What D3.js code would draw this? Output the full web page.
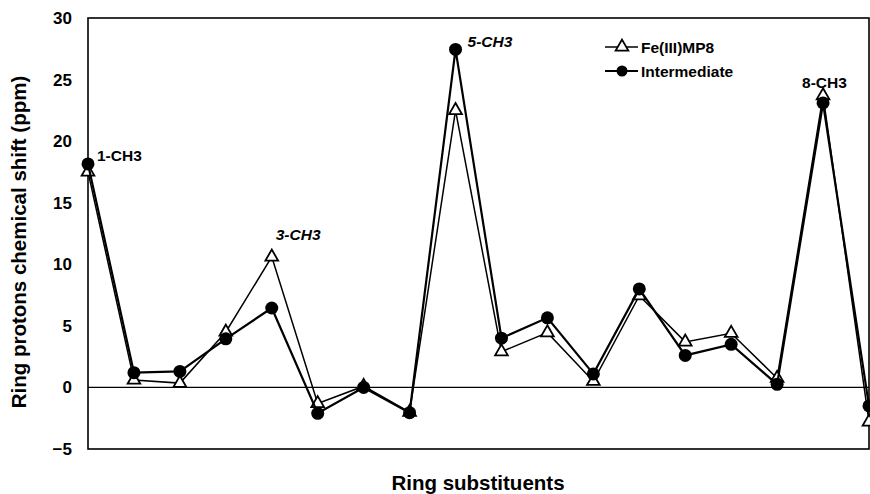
<!DOCTYPE html>
<html>
<head>
<meta charset="utf-8">
<script src="https://cdn.jsdelivr.net/npm/d3@7"></script>
<style>
  html, body { margin: 0; padding: 0; background: #fff; }
  svg { display: block; font-family: "Liberation Sans", Arial, sans-serif; }
</style>
</head>
<body>
<script>
// ring positions along the x axis (no tick labels shown)
const positions = [1, 2, 3, 4, 5, 6, 7, 8, 9, 10, 11, 12, 13, 14, 15, 16, 17, 18];
// chemical shifts (ppm)
const feMP8 = [17.5, 0.6, 0.35, 4.5, 10.6, -1.3, 0.1, -2.0, 22.5, 2.9, 4.45, 0.5, 7.45, 3.7, 4.4, 0.75, 23.7, -2.8];
const intermediate = [18.15, 1.2, 1.3, 3.95, 6.45, -2.1, 0.0, -2.05, 27.45, 4.0, 5.65, 1.1, 8.0, 2.6, 3.5, 0.25, 23.1, -1.5];
const yTicks = [-5, 0, 5, 10, 15, 20, 25, 30];
const peakLabels = ['1-CH3', '3-CH3', '5-CH3', '8-CH3'];
const peakPositions = [1, 5, 9, 17];

const width = 870;
const height = 494;
const margin = { top: 18, right: 1, bottom: 45, left: 88 };

const svg = d3.select('body').append('svg')
  .attr('width', width)
  .attr('height', height);

const x = d3.scaleLinear()
  .domain(d3.extent(positions))
  .range([margin.left, width - margin.right]);

const y = d3.scaleLinear()
  .domain([-5, 30])
  .range([height - margin.bottom, margin.top]);

// y axis labels only, no tick marks
const yAxis = svg.append('g')
  .attr('transform', `translate(${margin.left},0)`)
  .call(d3.axisLeft(y).tickValues(yTicks).tickSize(0).tickPadding(16).tickFormat(d3.format('d')));
yAxis.select('.domain').remove();
yAxis.selectAll('text')
  .attr('font-family', '"Liberation Sans", Arial, sans-serif')
  .attr('font-size', 17)
  .attr('font-weight', 'bold')
  .attr('fill', '#000');

// zero line
svg.append('line')
  .attr('x1', x.range()[0]).attr('x2', x.range()[1])
  .attr('y1', y(0)).attr('y2', y(0))
  .attr('stroke', '#000').attr('stroke-width', 1.3);

// frame
svg.append('rect')
  .attr('x', x.range()[0])
  .attr('y', y(30))
  .attr('width', x.range()[1] - x.range()[0])
  .attr('height', y(-5) - y(30))
  .attr('fill', 'none')
  .attr('stroke', '#000')
  .attr('stroke-width', 1.6);

const line = d3.line()
  .x((d, i) => x(positions[i]))
  .y(d => y(d));

const tri = d3.symbol(d3.symbolTriangle, 70);

// Fe(III)MP8 series
svg.append('path')
  .datum(feMP8)
  .attr('d', line)
  .attr('fill', 'none')
  .attr('stroke', '#000')
  .attr('stroke-width', 1.5);

svg.append('g').selectAll('path')
  .data(feMP8)
  .join('path')
  .attr('d', tri)
  .attr('transform', (d, i) => `translate(${x(positions[i])},${y(d)})`)
  .attr('fill', '#fff')
  .attr('stroke', '#000')
  .attr('stroke-width', 1.8);

// Intermediate series
svg.append('path')
  .datum(intermediate)
  .attr('d', line)
  .attr('fill', 'none')
  .attr('stroke', '#000')
  .attr('stroke-width', 2.2);

svg.append('g').selectAll('circle')
  .data(intermediate)
  .join('circle')
  .attr('cx', (d, i) => x(positions[i]))
  .attr('cy', d => y(d))
  .attr('r', 6.5)
  .attr('fill', '#000');

// peak annotations
const labelOffsets = [[9, -3], [4, -17], [12, -2], [-21, -8]];
const labelItalic = [false, true, true, false];
peakLabels.forEach((lab, k) => {
  const i = peakPositions[k] - 1;
  const v = Math.max(feMP8[i], intermediate[i]);
  svg.append('text')
    .attr('x', x(peakPositions[k]) + labelOffsets[k][0])
    .attr('y', y(v) + labelOffsets[k][1])
    .attr('font-size', 15.5)
    .attr('font-weight', 'bold')
    .attr('font-style', labelItalic[k] ? 'italic' : 'normal')
    .text(lab);
});

// legend
const legend = svg.append('g').attr('transform', 'translate(605,47)');
legend.append('line').attr('x1', 0).attr('x2', 33).attr('y1', 0).attr('y2', 0)
  .attr('stroke', '#000').attr('stroke-width', 1.5);
legend.append('path').attr('d', tri).attr('transform', 'translate(17,0)')
  .attr('fill', '#fff').attr('stroke', '#000').attr('stroke-width', 1.8);
legend.append('text').attr('x', 36).attr('y', 5.5)
  .attr('font-size', 15.5).attr('font-weight', 'bold').text('Fe(III)MP8');
legend.append('line').attr('x1', 0).attr('x2', 33).attr('y1', 24).attr('y2', 24)
  .attr('stroke', '#000').attr('stroke-width', 2.2);
legend.append('circle').attr('cx', 17).attr('cy', 24).attr('r', 5.5).attr('fill', '#000');
legend.append('text').attr('x', 36).attr('y', 29.5)
  .attr('font-size', 15.5).attr('font-weight', 'bold').text('Intermediate');

// axis titles
svg.append('text')
  .attr('x', 478)
  .attr('y', 490)
  .attr('text-anchor', 'middle')
  .attr('font-size', 20.5)
  .attr('font-weight', 'bold')
  .text('Ring substituents');

svg.append('text')
  .attr('transform', `translate(26,${242}) rotate(-90)`)
  .attr('text-anchor', 'middle')
  .attr('font-size', 20.5)
  .attr('font-weight', 'bold')
  .text('Ring protons chemical shift (ppm)');
</script>
</body>
</html>
